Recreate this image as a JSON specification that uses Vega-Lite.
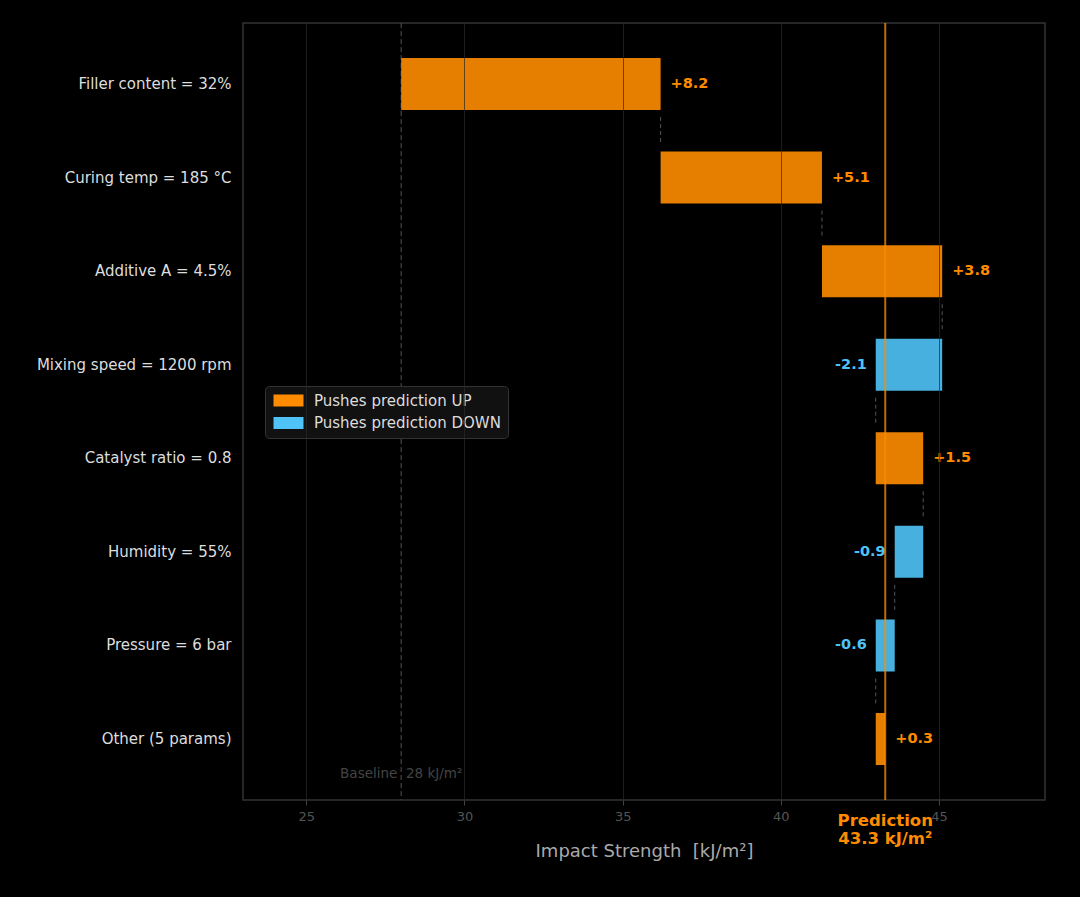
{
  "$schema": "https://vega.github.io/schema/vega-lite/v6.json",
  "autosize": "none",
  "width": 802,
  "height": 777,
  "padding": {"left": 243, "top": 23, "right": 35, "bottom": 97},
  "background": "#000000",
  "config": {
    "font": "DejaVu Sans",
    "view": {"stroke": "#333333", "strokeWidth": 1.5, "fill": "#000000"}
  },
  "datasets": {
    "steps": [
      {"feature": "Filler content = 32%", "start": 28.0, "delta": 8.2, "next": "Curing temp = 185 °C"},
      {"feature": "Curing temp = 185 °C", "start": 36.2, "delta": 5.1, "next": "Additive A = 4.5%"},
      {"feature": "Additive A = 4.5%", "start": 41.3, "delta": 3.8, "next": "Mixing speed = 1200 rpm"},
      {"feature": "Mixing speed = 1200 rpm", "start": 45.1, "delta": -2.1, "next": "Catalyst ratio = 0.8"},
      {"feature": "Catalyst ratio = 0.8", "start": 43.0, "delta": 1.5, "next": "Humidity = 55%"},
      {"feature": "Humidity = 55%", "start": 44.5, "delta": -0.9, "next": "Pressure = 6 bar"},
      {"feature": "Pressure = 6 bar", "start": 43.6, "delta": -0.6, "next": "Other (5 params)"},
      {"feature": "Other (5 params)", "start": 43.0, "delta": 0.3, "next": null}
    ],
    "baseline": [{"value": 28.0, "label": "Baseline\u00a0 28 kJ/m²"}],
    "prediction": [{"value": 43.3, "label": "Prediction\n43.3 kJ/m²"}]
  },
  "data": {"name": "steps"},
  "transform": [
    {"calculate": "datum.start + datum.delta", "as": "end"},
    {"calculate": "datum.delta > 0 ? 'Pushes prediction UP' : 'Pushes prediction DOWN'", "as": "direction"},
    {"calculate": "(datum.delta > 0 ? '+' : '-') + format(abs(datum.delta), '.1f')", "as": "deltaText"}
  ],
  "encoding": {
    "y": {
      "field": "feature",
      "type": "nominal",
      "scale": {
        "domain": [
          "Filler content = 32%",
          "Curing temp = 185 °C",
          "Additive A = 4.5%",
          "Mixing speed = 1200 rpm",
          "Catalyst ratio = 0.8",
          "Humidity = 55%",
          "Pressure = 6 bar",
          "Other (5 params)"
        ],
        "paddingInner": 0.444,
        "paddingOuter": 0.374
      },
      "axis": {
        "title": null,
        "ticks": false,
        "domain": false,
        "grid": false,
        "labelColor": "#DDDDDD",
        "labelFontSize": 15,
        "labelPadding": 12,
        "labelLimit": 300
      }
    }
  },
  "layer": [
    {
      "data": {"name": "baseline"},
      "mark": {"type": "rule", "stroke": "#444444", "strokeWidth": 1.2, "strokeDash": [5, 3]},
      "encoding": {
        "x": {
          "field": "value",
          "type": "quantitative",
          "scale": {"domain": [23, 48.35], "nice": false, "zero": false},
          "axis": {
            "values": [25, 30, 35, 40, 45],
            "title": "Impact Strength\u00a0 [kJ/m²]",
            "titleColor": "#AAAAAA",
            "titleFontSize": 18,
            "titleFontWeight": "normal",
            "titlePadding": 19,
            "labelColor": "#555555",
            "labelFontSize": 13,
            "labelPadding": 5,
            "tickColor": "#444444",
            "tickSize": 5,
            "domain": false,
            "grid": true,
            "gridColor": "#2A2A2A",
            "gridOpacity": 0.7,
            "gridWidth": 1,
            "zindex": 1
          }
        },
        "y": null
      }
    },
    {
      "mark": {"type": "bar", "opacity": 0.9},
      "encoding": {
        "x": {"field": "start", "type": "quantitative"},
        "x2": {"field": "end"},
        "color": {
          "field": "direction",
          "type": "nominal",
          "scale": {
            "domain": ["Pushes prediction UP", "Pushes prediction DOWN"],
            "range": ["#FF8C00", "#4FC3F7"]
          },
          "legend": {
            "title": null,
            "orient": "none",
            "legendX": 22,
            "legendY": 363,
            "fillColor": "#111111",
            "strokeColor": "#333333",
            "cornerRadius": 4,
            "padding": 7,
            "rowPadding": 6.5,
            "labelColor": "#DDDDDD",
            "labelFontSize": 15,
            "labelLimit": 400,
            "labelOffset": 27,
            "symbolType": "M-1,-1H4V1H-1Z",
            "symbolSize": 144,
            "symbolOpacity": 1,
            "symbolStrokeWidth": 0
          }
        }
      }
    },
    {
      "transform": [{"filter": "datum.next != null"}],
      "mark": {"type": "rule", "stroke": "#555555", "strokeWidth": 1, "strokeDash": [4, 3], "yOffset": 7, "y2Offset": -7},
      "encoding": {
        "x": {"field": "end", "type": "quantitative"},
        "y": {"field": "feature", "type": "nominal", "bandPosition": 1},
        "y2": {"field": "next", "bandPosition": 0}
      }
    },
    {
      "transform": [{"filter": "datum.delta > 0"}],
      "mark": {"type": "text", "align": "left", "baseline": "middle", "dx": 10, "fontSize": 14.5, "fontWeight": "bold", "color": "#FF8C00"},
      "encoding": {
        "x": {"field": "end", "type": "quantitative"},
        "text": {"field": "deltaText"}
      }
    },
    {
      "transform": [{"filter": "datum.delta < 0"}],
      "mark": {"type": "text", "align": "right", "baseline": "middle", "dx": -9, "fontSize": 14.5, "fontWeight": "bold", "color": "#4FC3F7"},
      "encoding": {
        "x": {"field": "end", "type": "quantitative"},
        "text": {"field": "deltaText"}
      }
    },
    {
      "data": {"name": "baseline"},
      "mark": {"type": "text", "align": "center", "baseline": "middle", "fontSize": 13.5, "color": "#444444"},
      "encoding": {
        "x": {"field": "value", "type": "quantitative"},
        "y": {"datum": "Other (5 params)", "type": "nominal", "bandPosition": 1.17},
        "text": {"field": "label"}
      }
    },
    {
      "data": {"name": "prediction"},
      "mark": {"type": "rule", "stroke": "#FF8C00", "strokeWidth": 2, "opacity": 0.75},
      "encoding": {
        "x": {"field": "value", "type": "quantitative"},
        "y": null
      }
    },
    {
      "data": {"name": "prediction"},
      "mark": {"type": "text", "align": "center", "baseline": "middle", "fontSize": 16.5, "fontWeight": "bold", "color": "#FF8C00", "lineBreak": "\n", "lineHeight": 18},
      "encoding": {
        "x": {"field": "value", "type": "quantitative"},
        "y": {"datum": "Other (5 params)", "type": "nominal", "bandPosition": 2.07},
        "text": {"field": "label"}
      }
    }
  ]
}
